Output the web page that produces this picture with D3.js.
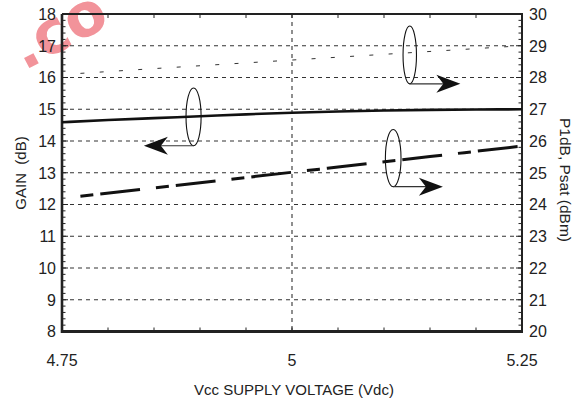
<!DOCTYPE html>
<html><head><meta charset="utf-8">
<script src="https://cdn.jsdelivr.net/npm/d3@7"></script>
<style>
html,body{margin:0;padding:0;background:#fff;}
svg{display:block;}
text{font-family:"Liberation Sans",Arial,Helvetica,sans-serif;fill:#222;}
</style></head>
<body><svg id="c" width="586" height="401"></svg>
<script>
// ---- data ----
const gainVolts = [4.75, 4.80, 4.85, 4.90, 4.95, 5.00, 5.05, 5.10, 5.15, 5.20, 5.25];
const gainDb    = [14.59, 14.66, 14.72, 14.78, 14.84, 14.89, 14.93, 14.96, 14.98, 14.99, 15.00];
const powerVolts = [4.77, 4.85, 4.95, 5.05, 5.15, 5.25];
const p1dbDbm    = [24.26, 24.52, 24.85, 25.18, 25.51, 25.84];
const psatDbm    = [28.13, 28.28, 28.46, 28.64, 28.82, 29.00];
const xTicks = [4.75, 5, 5.25];
const xTickLabels = ["4.75", "5", "5.25"];
const leftTicks = [8, 9, 10, 11, 12, 13, 14, 15, 16, 17, 18];
const rightTicks = [20, 21, 22, 23, 24, 25, 26, 27, 28, 29, 30];
// annotation ellipses: centre (volt, value on its axis), tip of arrow (volt)
const notes = [
  {axis: "left",  v: 4.893, y: 14.76, rv: 0.0082, ry: 0.91, tip: 4.839},
  {axis: "right", v: 5.128, y: 28.71, rv: 0.0073, ry: 0.91, tip: 5.183},
  {axis: "right", v: 5.110, y: 25.46, rv: 0.0085, ry: 0.90, tip: 5.164}
];

// ---- layout ----
const L = 62, R = 522, T = 14, B = 331.5;
const svg = d3.select("#c");
const x = d3.scaleLinear().domain([4.75, 5.25]).range([L, R]);
const yL = d3.scaleLinear().domain([8, 18]).range([B, T]);
const yR = d3.scaleLinear().domain([20, 30]).range([B, T]);

// watermark
svg.append("text").attr("transform", "translate(24,71) rotate(-28)")
  .attr("font-size", 60).attr("font-weight", "bold")
  .style("fill", "#f2939a").style("font-family", "'DejaVu Sans',Verdana,sans-serif")
  .text(".co");

// grid
const grid = svg.append("g").attr("stroke", "#333").attr("stroke-width", 1.1).attr("stroke-dasharray", "4,4");
grid.selectAll("line.h").data(leftTicks.slice(1, -1)).join("line")
  .attr("x1", L).attr("x2", R).attr("y1", d => yL(d)).attr("y2", d => yL(d));
grid.append("line").attr("x1", x(5)).attr("x2", x(5)).attr("y1", T).attr("y2", B);

// minor ticks
const tk = svg.append("g").attr("stroke", "#222").attr("stroke-width", 1);
const minorY = d3.range(8, 18.001, 0.2);
tk.selectAll("line.ml").data(minorY).join("line")
  .attr("x1", L).attr("x2", d => L + (Math.abs(d - Math.round(d)) < 1e-6 ? 6 : 3.5))
  .attr("y1", d => yL(d)).attr("y2", d => yL(d));
tk.selectAll("line.mr").data(minorY).join("line")
  .attr("x1", R).attr("x2", d => R - (Math.abs(d - Math.round(d)) < 1e-6 ? 6 : 3.5))
  .attr("y1", d => yL(d)).attr("y2", d => yL(d));
const minorX = d3.range(4.75, 5.2501, 0.05);
tk.selectAll("line.mb").data(minorX).join("line")
  .attr("x1", d => x(d)).attr("x2", d => x(d)).attr("y1", B).attr("y2", B - 4);
tk.selectAll("line.mt").data(minorX).join("line")
  .attr("x1", d => x(d)).attr("x2", d => x(d)).attr("y1", T).attr("y2", T + 4);

// frame
svg.append("line").attr("x1", L).attr("x2", R).attr("y1", T).attr("y2", T).attr("stroke", "#222").attr("stroke-width", 2);
svg.append("line").attr("x1", L).attr("x2", R).attr("y1", B).attr("y2", B).attr("stroke", "#222").attr("stroke-width", 3);
svg.append("line").attr("x1", L).attr("x2", L).attr("y1", T).attr("y2", B + 1.5).attr("stroke", "#222").attr("stroke-width", 2.6);
svg.append("line").attr("x1", R).attr("x2", R).attr("y1", T - 1).attr("y2", B + 1.5).attr("stroke", "#222").attr("stroke-width", 2);

// tick labels
const lab = svg.append("g").attr("font-size", 16);
lab.selectAll("text.l").data(leftTicks).join("text")
  .attr("x", L - 6).attr("y", d => yL(d)).attr("dy", "0.36em").attr("text-anchor", "end").text(d => d);
lab.selectAll("text.r").data(rightTicks).join("text")
  .attr("x", R + 7).attr("y", d => yR(d)).attr("dy", "0.36em").attr("text-anchor", "start").text(d => d);
lab.selectAll("text.b").data(xTicks).join("text")
  .attr("x", d => x(d)).attr("y", 365.5).attr("text-anchor", "middle").text((d, i) => xTickLabels[i]);

// axis titles
svg.append("text").attr("transform", "translate(26,173) rotate(-90)").attr("text-anchor", "middle")
  .attr("font-size", 15).style("white-space", "pre").text("GAIN  (dB)");
svg.append("text").attr("transform", "translate(560,180) rotate(90)").attr("text-anchor", "middle")
  .attr("font-size", 15.5).style("white-space", "pre").text("P1dB, Psat (dBm)");
svg.append("text").attr("x", 294).attr("y", 395).attr("text-anchor", "middle")
  .attr("font-size", 15).text("Vcc SUPPLY VOLTAGE (Vdc)");

// curves
const lineL = d3.line().x(d => x(d[0])).y(d => yL(d[1])).curve(d3.curveMonotoneX);
const lineR = d3.line().x(d => x(d[0])).y(d => yR(d[1])).curve(d3.curveMonotoneX);
svg.append("path").attr("d", lineL(d3.zip(gainVolts, gainDb)))
  .attr("fill", "none").attr("stroke", "#111").attr("stroke-width", 2.6);
svg.append("path").attr("d", lineR(d3.zip(powerVolts, p1dbDbm)))
  .attr("fill", "none").attr("stroke", "#111").attr("stroke-width", 3).attr("stroke-dasharray", "13,7,40,16");
svg.append("path").attr("d", lineR(d3.zip(powerVolts, psatDbm)))
  .attr("fill", "none").attr("stroke", "#333").attr("stroke-width", 1).attr("stroke-dasharray", "4,15.3");

// annotations
notes.forEach(n => {
  const ys = n.axis === "left" ? yL : yR;
  const cx = x(n.v), cy = ys(n.y);
  const rx = x(n.v + n.rv) - cx, ry = ys(n.y - n.ry) - cy;
  svg.append("ellipse").attr("cx", cx).attr("cy", cy).attr("rx", rx).attr("ry", ry)
    .attr("fill", "none").attr("stroke", "#111").attr("stroke-width", 1.1);
  const by = cy + ry, tx = x(n.tip);
  const dir = tx < cx ? -1 : 1;
  const len = 24, hw = 9, notch = 7;
  svg.append("line").attr("x1", cx).attr("x2", tx - dir * notch).attr("y1", by).attr("y2", by)
    .attr("stroke", "#333").attr("stroke-width", 1.2);
  const pts = [[tx, by], [tx - dir * len, by - hw], [tx - dir * (len - notch), by], [tx - dir * len, by + hw]];
  svg.append("path").attr("d", "M" + pts.map(p => p.join(",")).join("L") + "Z").attr("fill", "#111");
});
</script></body></html>
